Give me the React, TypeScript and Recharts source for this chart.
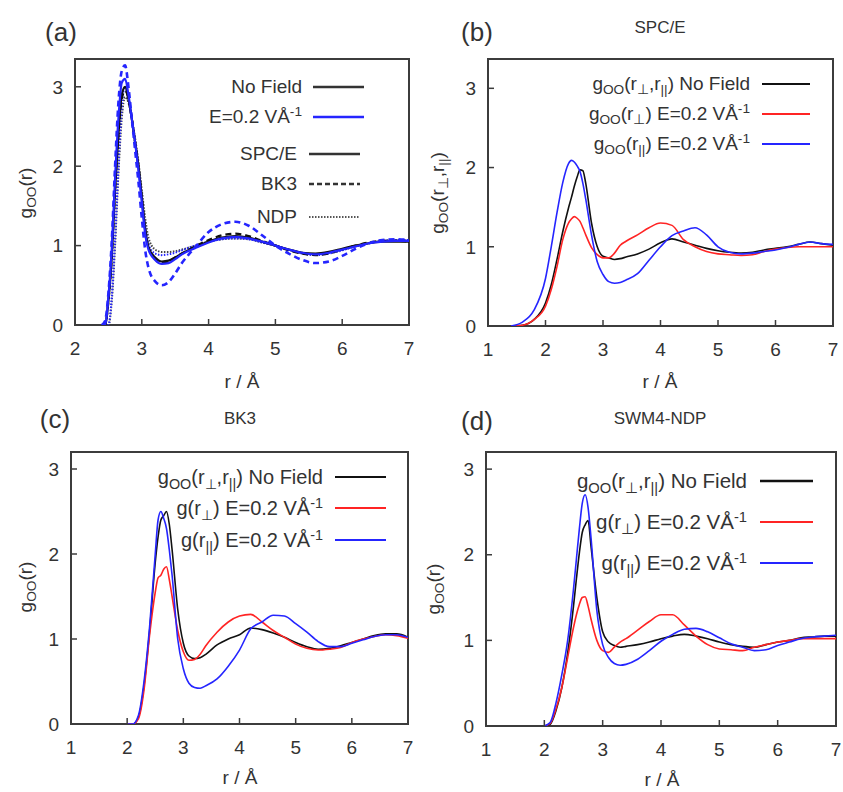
import React from "react";
import { LineChart, Line, XAxis, YAxis, ReferenceArea, Legend } from "recharts";

const FONT = '"Liberation Sans", Arial, Helvetica, sans-serif';
const INK = "#333";
const FRAME = "#3c3c3c";
const BLACK = "#111";
const BLUE = "#2525ff";
const RED = "#ff2424";

// (a) all three models, with and without field
const R_A = [2.4, 2.45, 2.5, 2.55, 2.6, 2.65, 2.7, 2.75, 2.8, 2.85, 2.9, 2.95, 3.0, 3.05, 3.1, 3.2, 3.3, 3.4, 3.5, 3.6, 3.8, 4.0, 4.2, 4.4, 4.6, 4.8, 5.0, 5.2, 5.4, 5.6, 5.8, 6.0, 6.2, 6.4, 6.6, 6.8, 7.0];
const A_SPC_NO = [0, 0, 0.3, 0.85, 1.7, 2.4, 2.9, 3.0, 2.85, 2.6, 2.3, 2.0, 1.6, 1.2, 0.98, 0.85, 0.8, 0.81, 0.85, 0.9, 0.98, 1.05, 1.1, 1.12, 1.1, 1.05, 1.0, 0.95, 0.91, 0.9, 0.92, 0.96, 1.0, 1.03, 1.05, 1.05, 1.05];
const A_SPC_E = [0, 0, 0.35, 0.95, 1.85, 2.6, 3.05, 3.1, 2.9, 2.6, 2.3, 1.95, 1.55, 1.15, 0.95, 0.82, 0.77, 0.78, 0.83, 0.89, 0.97, 1.04, 1.09, 1.11, 1.09, 1.05, 1.0, 0.95, 0.91, 0.89, 0.91, 0.95, 0.99, 1.03, 1.05, 1.06, 1.06];
const A_BK3_NO = [0, 0, 0.3, 0.85, 1.7, 2.4, 2.85, 2.95, 2.85, 2.6, 2.3, 2.0, 1.6, 1.2, 0.97, 0.83, 0.78, 0.8, 0.85, 0.9, 0.99, 1.07, 1.13, 1.15, 1.12, 1.06, 1.0, 0.94, 0.9, 0.88, 0.9, 0.95, 1.0, 1.04, 1.06, 1.06, 1.05];
const A_BK3_E = [0, 0.05, 0.4, 1.05, 2.0, 2.8, 3.2, 3.27, 3.0, 2.6, 2.2, 1.8, 1.35, 0.95, 0.72, 0.55, 0.5, 0.54, 0.65, 0.78, 0.98, 1.17, 1.27, 1.3, 1.25, 1.13, 1.0, 0.9, 0.82, 0.78, 0.8, 0.87, 0.96, 1.03, 1.07, 1.08, 1.07];
const A_NDP_NO = [0, 0, 0, 0.3, 1.0, 1.9, 2.6, 2.87, 2.8, 2.6, 2.35, 2.05, 1.7, 1.35, 1.1, 0.95, 0.92, 0.92, 0.93, 0.95, 1.0, 1.05, 1.08, 1.09, 1.08, 1.04, 1.0, 0.95, 0.91, 0.89, 0.91, 0.95, 0.99, 1.03, 1.06, 1.07, 1.06];
const A_NDP_E = [0, 0, 0, 0.35, 1.1, 2.0, 2.75, 3.0, 2.85, 2.6, 2.3, 2.0, 1.6, 1.25, 1.02, 0.9, 0.88, 0.89, 0.91, 0.94, 1.0, 1.05, 1.08, 1.09, 1.08, 1.04, 1.0, 0.95, 0.9, 0.88, 0.9, 0.94, 0.99, 1.03, 1.06, 1.07, 1.07];

// (b) SPC/E
const R_B = [1.4, 1.6, 1.8, 2.0, 2.1, 2.2, 2.3, 2.4, 2.45, 2.5, 2.55, 2.6, 2.65, 2.7, 2.8, 2.9, 3.0, 3.1, 3.2, 3.3, 3.4, 3.6, 3.8, 4.0, 4.2, 4.4, 4.6, 4.8, 5.0, 5.2, 5.4, 5.6, 5.8, 6.0, 6.2, 6.4, 6.6, 6.8, 7.0];
const B_NO = [0, 0.01, 0.08, 0.29, 0.52, 0.84, 1.19, 1.49, 1.62, 1.76, 1.88, 1.97, 1.96, 1.8, 1.3, 1.0, 0.88, 0.86, 0.84, 0.85, 0.87, 0.91, 0.97, 1.05, 1.1, 1.06, 1.02, 0.98, 0.95, 0.93, 0.92, 0.93, 0.96, 0.98, 1.0, 1.03, 1.06, 1.04, 1.02];
const B_PERP = [0, 0.01, 0.08, 0.25, 0.46, 0.75, 1.09, 1.3, 1.35, 1.38, 1.36, 1.32, 1.24, 1.15, 0.99, 0.9, 0.86, 0.86, 0.92, 1.02, 1.07, 1.15, 1.24, 1.3, 1.27, 1.09, 1.0, 0.94, 0.91, 0.9, 0.89, 0.9, 0.94, 0.97, 0.99, 1.0, 1.0, 1.0, 1.0];
const B_PAR = [0, 0.05, 0.2, 0.6, 1.0, 1.43, 1.81, 2.05, 2.09, 2.07, 2.02, 1.95, 1.8, 1.6, 1.15, 0.81, 0.65, 0.56, 0.54, 0.55, 0.58, 0.66, 0.83, 1.0, 1.14, 1.2, 1.24, 1.15, 1.0, 0.93, 0.91, 0.92, 0.94, 0.96, 0.99, 1.03, 1.06, 1.04, 1.03];

// (c) BK3
const R_C = [2.0, 2.1, 2.2, 2.3, 2.4, 2.5, 2.55, 2.6, 2.65, 2.7, 2.75, 2.8, 2.9, 3.0, 3.1, 3.2, 3.3, 3.4, 3.6, 3.8, 4.0, 4.2, 4.4, 4.6, 4.8, 5.0, 5.2, 5.4, 5.6, 5.8, 6.0, 6.2, 6.4, 6.6, 6.8, 7.0];
const C_NO = [0, 0, 0.08, 0.45, 1.1, 1.9, 2.2, 2.4, 2.45, 2.5, 2.35, 2.05, 1.35, 0.95, 0.8, 0.77, 0.78, 0.82, 0.93, 1.0, 1.05, 1.13, 1.11, 1.07, 1.02, 0.96, 0.91, 0.88, 0.89, 0.92, 0.96, 1.0, 1.04, 1.06, 1.06, 1.02];
const C_PERP = [0, 0, 0.06, 0.4, 1.05, 1.55, 1.72, 1.75, 1.82, 1.85, 1.7, 1.5, 1.1, 0.85, 0.75, 0.76, 0.82, 0.92, 1.08, 1.2, 1.27, 1.29, 1.2, 1.1, 1.02, 0.94, 0.89, 0.87, 0.88, 0.9, 0.96, 1.0, 1.03, 1.05, 1.04, 1.01];
const C_PAR = [0, 0, 0.1, 0.5, 1.15, 2.0, 2.4, 2.5, 2.42, 2.3, 2.05, 1.75, 1.0, 0.65, 0.48, 0.43, 0.42, 0.45, 0.53, 0.68, 0.87, 1.12, 1.2, 1.28, 1.27, 1.18, 1.08, 0.97, 0.91, 0.91, 0.95, 0.99, 1.03, 1.05, 1.05, 1.02];

// (d) SWM4-NDP
const R_D = R_C;
const D_NO = [0, 0.02, 0.18, 0.45, 0.85, 1.4, 1.72, 2.02, 2.26, 2.35, 2.4, 2.1, 1.5, 1.1, 0.98, 0.94, 0.92, 0.93, 0.95, 0.98, 1.02, 1.05, 1.07, 1.05, 1.02, 0.98, 0.95, 0.93, 0.92, 0.95, 0.98, 1.0, 1.03, 1.04, 1.05, 1.05];
const D_PERP = [0, 0.03, 0.2, 0.45, 0.8, 1.15, 1.3, 1.42, 1.5, 1.51, 1.4, 1.25, 1.0, 0.88, 0.86, 0.92, 0.98, 1.02, 1.12, 1.22, 1.3, 1.3, 1.18, 1.05, 0.95, 0.9, 0.89, 0.88, 0.92, 0.95, 0.98, 1.0, 1.02, 1.02, 1.02, 1.02];
const D_PAR = [0, 0.04, 0.27, 0.6, 1.0, 1.6, 1.95, 2.3, 2.6, 2.7, 2.55, 2.2, 1.35, 0.95, 0.8, 0.73, 0.71, 0.72, 0.78, 0.88, 0.99, 1.07, 1.13, 1.14, 1.1, 1.03, 0.96, 0.92, 0.88, 0.89, 0.94, 0.98, 1.02, 1.04, 1.05, 1.06];

const X_TICKS_A = [2, 3, 4, 5, 6, 7];
const X_TICKS = [1, 2, 3, 4, 5, 6, 7];
const Y_TICKS = [0, 1, 2, 3];

const rows = (r: number[], cols: Record<string, number[]>) =>
  r.map((v, i) => {
    const o: Record<string, number> = { r: v };
    Object.keys(cols).forEach((k) => (o[k] = cols[k][i]));
    return o;
  });

const dataA = rows(R_A, { spcNo: A_SPC_NO, spcE: A_SPC_E, bk3No: A_BK3_NO, bk3E: A_BK3_E, ndpNo: A_NDP_NO, ndpE: A_NDP_E });
const dataB = rows(R_B, { no: B_NO, perp: B_PERP, par: B_PAR });
const dataC = rows(R_C, { no: C_NO, perp: C_PERP, par: C_PAR });
const dataD = rows(R_D, { no: D_NO, perp: D_PERP, par: D_PAR });

const Sub = ({ children }: { children: React.ReactNode }) => (
  <span style={{ fontSize: "0.72em", position: "relative", top: "0.32em" }}>{children}</span>
);
const Sup = ({ children }: { children: React.ReactNode }) => (
  <span style={{ fontSize: "0.72em", position: "relative", top: "-0.5em" }}>{children}</span>
);

const G = <>g<Sub>OO</Sub></>;
const EF = <>E=0.2 VÅ<Sup>-1</Sup></>;
const NO_FIELD = <>{G}(r<Sub>⊥</Sub>,r<Sub>||</Sub>) No Field</>;

type LineDef = { key: string; color: string; width: number; dash?: string };
type LegRow = { label: React.ReactNode; color: string; width: number; dash?: string; y: number; right: number; x1: number; x2: number };

function LegendBox({ items, w, h, size }: { items: LegRow[]; w: number; h: number; size: number }) {
  return (
    <div style={{ position: "relative", width: w, height: h, fontFamily: FONT, fontSize: size, color: INK }}>
      {items.map((it, i) => (
        <React.Fragment key={i}>
          <div style={{ position: "absolute", right: w - it.right, top: it.y - 14, height: 28, lineHeight: "28px", whiteSpace: "nowrap" }}>
            {it.label}
          </div>
          <svg style={{ position: "absolute", left: it.x1, top: it.y - 4 }} width={it.x2 - it.x1} height={8}>
            <line x1={0} x2={it.x2 - it.x1} y1={4} y2={4} stroke={it.color} strokeWidth={it.width} strokeDasharray={it.dash} />
          </svg>
        </React.Fragment>
      ))}
    </div>
  );
}

function Panel(props: {
  x: number; y: number; w: number; h: number;
  m: { top: number; right: number; bottom: number; left: number };
  data: Record<string, number>[]; lines: LineDef[];
  xDomain: [number, number]; xTicks: number[]; yMax: number;
  legend: LegRow[]; legendSize: number;
}) {
  const { x, y, w, h, m, data, lines, xDomain, xTicks, yMax, legend, legendSize } = props;
  const tick = { fontSize: 19, fill: INK, fontFamily: FONT };
  return (
    <div style={{ position: "absolute", left: x, top: y }}>
      <LineChart width={w} height={h} data={data} margin={m}>
        <XAxis dataKey="r" type="number" domain={xDomain} ticks={xTicks} interval={0} allowDataOverflow
          axisLine={false} tickSize={-6} tickMargin={23} height={35}
          tickLine={{ stroke: FRAME, strokeWidth: 1.5 }} tick={tick} />
        <YAxis type="number" domain={[0, yMax]} ticks={Y_TICKS} interval={0} allowDataOverflow
          axisLine={false} tickSize={-6} tickMargin={18} width={50}
          tickLine={{ stroke: FRAME, strokeWidth: 1.5 }} tick={tick} />
        <ReferenceArea x1={xDomain[0]} x2={xDomain[1]} y1={0} y2={yMax} fill="none" stroke={FRAME} strokeWidth={2} ifOverflow="visible" />
        {lines.map((l) => (
          <Line key={l.key} dataKey={l.key} type="monotone" stroke={l.color} strokeWidth={l.width}
            strokeDasharray={l.dash} dot={false} activeDot={false} isAnimationActive={false} />
        ))}
        <Legend layout="vertical" align="center" verticalAlign="middle"
          wrapperStyle={{ left: 0, top: 0, width: w, height: h, pointerEvents: "none" }}
          content={() => <LegendBox items={legend} w={w} h={h} size={legendSize} />} />
      </LineChart>
    </div>
  );
}

function Txt({ x, y, size, rotate, children }: { x: number; y: number; size: number; rotate?: boolean; children: React.ReactNode }) {
  return (
    <div style={{
      position: "absolute", left: x, top: y, fontFamily: FONT, fontSize: size, color: INK, whiteSpace: "nowrap",
      transform: `translate(-50%, -50%)${rotate ? " rotate(-90deg)" : ""}`,
    }}>
      {children}
    </div>
  );
}

export default function App() {
  return (
    <div style={{ position: "absolute", left: 0, top: 0, width: 843, height: 792, background: "#fff", overflow: "hidden" }}>
      <Panel x={0} y={0} w={420} h={395} m={{ top: 59, right: 11, bottom: 35, left: 25 }}
        data={dataA} xDomain={[2, 7]} xTicks={X_TICKS_A} yMax={3.35} legendSize={19}
        lines={[
          { key: "ndpNo", color: "#444", width: 2, dash: "1.5 1.5" },
          { key: "ndpE", color: BLUE, width: 2, dash: "1.5 1.5" },
          { key: "bk3No", color: BLACK, width: 2.2, dash: "6 4" },
          { key: "spcNo", color: BLACK, width: 2.2 },
          { key: "spcE", color: BLUE, width: 2.2 },
          { key: "bk3E", color: BLUE, width: 2.6, dash: "6 4" },
        ]}
        legend={[
          { label: "No Field", color: "#333", width: 2.5, y: 87, right: 302, x1: 313, x2: 364 },
          { label: EF, color: BLUE, width: 2.5, y: 117, right: 302, x1: 313, x2: 364 },
          { label: "SPC/E", color: "#333", width: 2.5, y: 154, right: 297, x1: 309, x2: 360 },
          { label: "BK3", color: "#333", width: 2.5, dash: "5 3", y: 184, right: 297, x1: 309, x2: 360 },
          { label: "NDP", color: "#555", width: 2, dash: "1.5 1.5", y: 217, right: 297, x1: 309, x2: 360 },
        ]} />
      <Panel x={420} y={0} w={423} h={395} m={{ top: 59, right: 10, bottom: 34, left: 18 }}
        data={dataB} xDomain={[1, 7]} xTicks={X_TICKS} yMax={3.37} legendSize={19}
        lines={[
          { key: "no", color: BLACK, width: 1.6 },
          { key: "perp", color: RED, width: 1.6 },
          { key: "par", color: BLUE, width: 1.6 },
        ]}
        legend={[
          { label: NO_FIELD, color: BLACK, width: 2, y: 84, right: 330, x1: 342, x2: 390 },
          { label: <>{G}(r<Sub>⊥</Sub>) {EF}</>, color: RED, width: 2, y: 114, right: 330, x1: 342, x2: 390 },
          { label: <>{G}(r<Sub>||</Sub>) {EF}</>, color: BLUE, width: 2, y: 144, right: 330, x1: 342, x2: 390 },
        ]} />
      <Panel x={0} y={395} w={420} h={397} m={{ top: 57, right: 12, bottom: 33, left: 21 }}
        data={dataC} xDomain={[1, 7]} xTicks={X_TICKS} yMax={3.2} legendSize={20}
        lines={[
          { key: "no", color: BLACK, width: 1.6 },
          { key: "perp", color: RED, width: 1.6 },
          { key: "par", color: BLUE, width: 1.6 },
        ]}
        legend={[
          { label: NO_FIELD, color: BLACK, width: 2, y: 82, right: 323, x1: 335, x2: 386 },
          { label: <>g(r<Sub>⊥</Sub>) {EF}</>, color: RED, width: 2, y: 113, right: 323, x1: 335, x2: 386 },
          { label: <>g(r<Sub>||</Sub>) {EF}</>, color: BLUE, width: 2, y: 145, right: 323, x1: 335, x2: 386 },
        ]} />
      <Panel x={420} y={395} w={423} h={397} m={{ top: 57, right: 7, bottom: 31, left: 16 }}
        data={dataD} xDomain={[1, 7]} xTicks={X_TICKS} yMax={3.2} legendSize={20.5}
        lines={[
          { key: "no", color: BLACK, width: 1.6 },
          { key: "perp", color: RED, width: 1.6 },
          { key: "par", color: BLUE, width: 1.6 },
        ]}
        legend={[
          { label: NO_FIELD, color: BLACK, width: 2.5, y: 86, right: 327, x1: 340, x2: 393 },
          { label: <>g(r<Sub>⊥</Sub>) {EF}</>, color: RED, width: 2, y: 127, right: 327, x1: 340, x2: 393 },
          { label: <>g(r<Sub>||</Sub>) {EF}</>, color: BLUE, width: 2, y: 168, right: 327, x1: 340, x2: 393 },
        ]} />

      <Txt x={61} y={32} size={26}>(a)</Txt>
      <Txt x={477} y={32} size={26}>(b)</Txt>
      <Txt x={55} y={419} size={26}>(c)</Txt>
      <Txt x={477} y={421} size={26}>(d)</Txt>

      <Txt x={660} y={28} size={17}>SPC/E</Txt>
      <Txt x={240} y={419} size={17}>BK3</Txt>
      <Txt x={660} y={419} size={17}>SWM4-NDP</Txt>

      <Txt x={242} y={382} size={19}>r / Å</Txt>
      <Txt x={660} y={382} size={19}>r / Å</Txt>
      <Txt x={240} y={778} size={19}>r / Å</Txt>
      <Txt x={662} y={780} size={19}>r / Å</Txt>

      <Txt x={26} y={193} size={19} rotate>{G}(r)</Txt>
      <Txt x={438} y={193} size={19} rotate>{G}(r<Sub>⊥</Sub>,r<Sub>||</Sub>)</Txt>
      <Txt x={26} y={587} size={19} rotate>{G}(r)</Txt>
      <Txt x={434} y={589} size={19} rotate>{G}(r)</Txt>
    </div>
  );
}
